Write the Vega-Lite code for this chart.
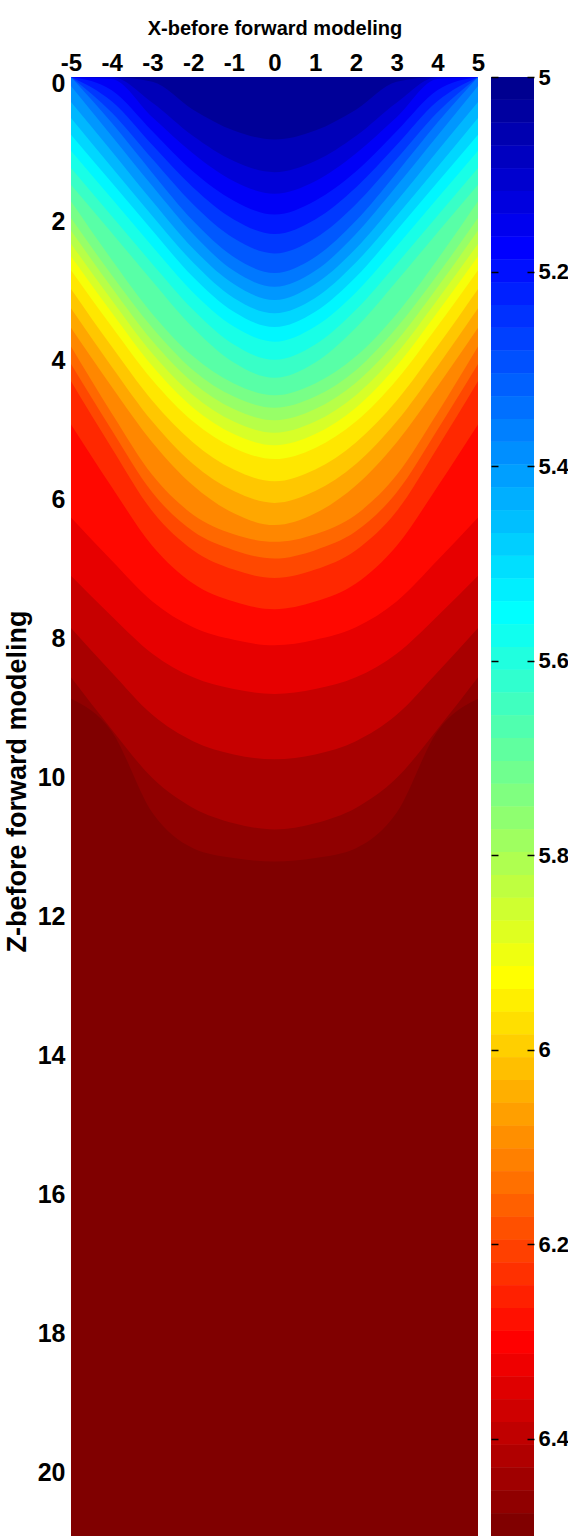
{
  "$schema": "https://vega.github.io/schema/vega-lite/v6.json",
  "background": "white",
  "padding": {"left": 3, "top": 18, "right": 0, "bottom": 0},
  "spacing": 5,
  "config": {
    "view": {"stroke": null},
    "axis": {
      "grid": false,
      "domain": false,
      "ticks": false,
      "labelColor": "#000000",
      "titleColor": "#000000",
      "labelFont": "Liberation Sans, Arial, sans-serif",
      "labelFontWeight": "bold",
      "titleFont": "Liberation Sans, Arial, sans-serif",
      "titleFontWeight": "bold",
      "labelOverlap": false,
      "labelFlush": false
    }
  },
  "hconcat": [
    {
      "width": 407,
      "height": 1459,
      "view": {"fill": "#800000", "stroke": null},
      "data": {
        "values": [
          {"v": 6.465, "x": [-5,-4,-3,-2,-1,0,1,2,3,4,5], "z": [8.95,9.42,10.59,11.1,11.24,11.29,11.24,11.1,10.59,9.42,8.95]},
          {"v": 6.4297, "x": [-5,-4,-3,-2,-1,0,1,2,3,4,5], "z": [8.64,9.39,10.09,10.52,10.74,10.83,10.74,10.52,10.09,9.39,8.64]},
          {"v": 6.3828, "x": [-5,-4,-3,-2,-1,0,1,2,3,4,5], "z": [7.93,8.57,9.18,9.56,9.75,9.82,9.75,9.56,9.18,8.57,7.93]},
          {"v": 6.3359, "x": [-5,-4,-3,-2,-1,0,1,2,3,4,5], "z": [7.18,7.76,8.3,8.64,8.81,8.88,8.81,8.64,8.3,7.76,7.18]},
          {"v": 6.2891, "x": [-5,-4,-3,-2,-1,0,1,2,3,4,5], "z": [6.34,6.96,7.55,7.92,8.1,8.18,8.1,7.92,7.55,6.96,6.34]},
          {"v": 6.2422, "x": [-5,-4,-3,-2,-1,0,1,2,3,4,5], "z": [5.0,5.9,6.75,7.29,7.55,7.66,7.55,7.29,6.75,5.9,5.0]},
          {"v": 6.1953, "x": [-5,-4,-3,-2,-1,0,1,2,3,4,5], "z": [4.38,5.34,6.25,6.81,7.09,7.21,7.09,6.81,6.25,5.34,4.38]},
          {"v": 6.1484, "x": [-5,-4,-3,-2,-1,0,1,2,3,4,5], "z": [4.13,5.08,5.98,6.54,6.81,6.93,6.81,6.54,5.98,5.08,4.13]},
          {"v": 6.1016, "x": [-5,-4,-3,-2,-1,0,1,2,3,4,5], "z": [3.88,4.84,5.73,6.3,6.58,6.69,6.58,6.3,5.73,4.84,3.88]},
          {"v": 6.0547, "x": [-5,-4,-3,-2,-1,0,1,2,3,4,5], "z": [3.61,4.46,5.26,5.88,6.28,6.45,6.28,5.88,5.26,4.46,3.61]},
          {"v": 6.0078, "x": [-5,-4,-3,-2,-1,0,1,2,3,4,5], "z": [3.33,4.17,4.96,5.57,5.96,6.13,5.96,5.57,4.96,4.17,3.33]},
          {"v": 5.9609, "x": [-5,-4,-3,-2,-1,0,1,2,3,4,5], "z": [3.05,3.88,4.66,5.26,5.65,5.82,5.65,5.26,4.66,3.88,3.05]},
          {"v": 5.9141, "x": [-5,-4,-3,-2,-1,0,1,2,3,4,5], "z": [2.78,3.59,4.36,4.96,5.34,5.5,5.34,4.96,4.36,3.59,2.78]},
          {"v": 5.8672, "x": [-5,-4,-3,-2,-1,0,1,2,3,4,5], "z": [2.58,3.39,4.16,4.76,5.14,5.3,5.14,4.76,4.16,3.39,2.58]},
          {"v": 5.8203, "x": [-5,-4,-3,-2,-1,0,1,2,3,4,5], "z": [2.4,3.21,3.98,4.58,4.96,5.12,4.96,4.58,3.98,3.21,2.4]},
          {"v": 5.7734, "x": [-5,-4,-3,-2,-1,0,1,2,3,4,5], "z": [2.21,3.03,3.8,4.4,4.78,4.94,4.78,4.4,3.8,3.03,2.21]},
          {"v": 5.7266, "x": [-5,-4,-3,-2,-1,0,1,2,3,4,5], "z": [2.03,2.85,3.61,4.22,4.6,4.76,4.6,4.22,3.61,2.85,2.03]},
          {"v": 5.6797, "x": [-5,-4,-3,-2,-1,0,1,2,3,4,5], "z": [1.79,2.63,3.41,4.02,4.41,4.58,4.41,4.02,3.41,2.63,1.79]},
          {"v": 5.6328, "x": [-5,-4,-3,-2,-1,0,1,2,3,4,5], "z": [1.55,2.24,2.94,3.61,4.11,4.33,4.11,3.61,2.94,2.24,1.55]},
          {"v": 5.5859, "x": [-5,-4,-3,-2,-1,0,1,2,3,4,5], "z": [1.31,2.0,2.69,3.35,3.85,4.07,3.85,3.35,2.69,2.0,1.31]},
          {"v": 5.5391, "x": [-5,-4,-3,-2,-1,0,1,2,3,4,5], "z": [1.06,1.75,2.44,3.1,3.59,3.81,3.59,3.1,2.44,1.75,1.06]},
          {"v": 5.4922, "x": [-5,-4,-3,-2,-1,0,1,2,3,4,5], "z": [0.83,1.52,2.21,2.88,3.38,3.6,3.38,2.88,2.21,1.52,0.83]},
          {"v": 5.4453, "x": [-5,-4,-3,-2,-1,0,1,2,3,4,5], "z": [0.59,1.3,2.0,2.67,3.18,3.4,3.18,2.67,2.0,1.3,0.59]},
          {"v": 5.3984, "x": [-5,-4,-3,-2,-1,0,1,2,3,4,5], "z": [0.36,1.07,1.79,2.47,2.98,3.21,2.98,2.47,1.79,1.07,0.36]},
          {"v": 5.3516, "x": [-5,-4,-3,-2,-1,0,1,2,3,4,5], "z": [0.13,0.85,1.57,2.26,2.79,3.02,2.79,2.26,1.57,0.85,0.13]},
          {"v": 5.3047, "x": [-5,-4,-3,-2,-1,0,1,2,3,4,5], "z": [0,0.66,1.38,2.07,2.59,2.82,2.59,2.07,1.38,0.66,0]},
          {"v": 5.2578, "x": [-5,-4,-3,-2,-1,0,1,2,3,4,5], "z": [0,0.51,1.18,1.83,2.32,2.54,2.32,1.83,1.18,0.51,0]},
          {"v": 5.2109, "x": [-5,-4,-3,-2,-1,0,1,2,3,4,5], "z": [0,0.35,0.98,1.59,2.05,2.26,2.05,1.59,0.98,0.35,0]},
          {"v": 5.1641, "x": [-5,-4,-3,-2,-1,0,1,2,3,4,5], "z": [0,0.19,0.78,1.36,1.78,1.98,1.78,1.36,0.78,0.19,0]},
          {"v": 5.1172, "x": [-5,-4,-3,-2,-1,0,1,2,3,4,5], "z": [0,0.03,0.58,1.1,1.5,1.68,1.5,1.1,0.58,0.03,0]},
          {"v": 5.0703, "x": [-5,-4,-3,-2,-1,0,1,2,3,4,5], "z": [0,0,0.37,0.85,1.21,1.37,1.21,0.85,0.37,0,0]},
          {"v": 5.0234, "x": [-5,-4,-3,-2,-1,0,1,2,3,4,5], "z": [0,0,0.07,0.47,0.77,0.9,0.77,0.47,0.07,0,0]}
        ]
      },
      "transform": [{"flatten": ["x", "z"]}],
      "mark": {"type": "area", "interpolate": "monotone", "clip": true},
      "encoding": {
        "x": {
          "field": "x",
          "type": "quantitative",
          "scale": {"domain": [-5, 5], "nice": false, "zero": false},
          "axis": {
            "orient": "top",
            "values": [-5, -4, -3, -2, -1, 0, 1, 2, 3, 4, 5],
            "labelExpr": "'' + datum.value",
            "labelFontSize": 24,
            "labelPadding": 2,
            "title": "X-before forward modeling",
            "titleFontSize": 20,
            "titlePadding": 13
          }
        },
        "y": {
          "field": "z",
          "type": "quantitative",
          "stack": null,
          "scale": {"domain": [0, 21], "reverse": true, "nice": false, "zero": false},
          "axis": {
            "values": [0, 2, 4, 6, 8, 10, 12, 14, 16, 18, 20],
            "labelExpr": "'' + datum.value",
            "labelFontSize": 25,
            "labelPadding": 6,
            "labelOffset": 6,
            "title": "Z-before forward modeling",
            "titleFontSize": 27,
            "titlePadding": 6,
            "titleY": 704
          }
        },
        "y2": {"datum": 0},
        "color": {
          "field": "v",
          "type": "quantitative",
          "scale": {
            "domain": [4.988, 5.1758, 5.5508, 5.9258, 6.3008, 6.4883],
            "range": ["#000080", "#0000ff", "#00ffff", "#ffff00", "#ff0000", "#800000"],
            "interpolate": "rgb",
            "clamp": true,
            "nice": false,
            "zero": false
          },
          "legend": null
        }
      }
    },
    {
      "width": 43,
      "height": 1459,
      "data": {
        "values": [
          {"v": 5.0117}, {"v": 5.0352}, {"v": 5.0586}, {"v": 5.082}, {"v": 5.1055}, {"v": 5.1289}, {"v": 5.1523}, {"v": 5.1758},
          {"v": 5.1992}, {"v": 5.2227}, {"v": 5.2461}, {"v": 5.2695}, {"v": 5.293}, {"v": 5.3164}, {"v": 5.3398}, {"v": 5.3633},
          {"v": 5.3867}, {"v": 5.4102}, {"v": 5.4336}, {"v": 5.457}, {"v": 5.4805}, {"v": 5.5039}, {"v": 5.5273}, {"v": 5.5508},
          {"v": 5.5742}, {"v": 5.5977}, {"v": 5.6211}, {"v": 5.6445}, {"v": 5.668}, {"v": 5.6914}, {"v": 5.7148}, {"v": 5.7383},
          {"v": 5.7617}, {"v": 5.7852}, {"v": 5.8086}, {"v": 5.832}, {"v": 5.8555}, {"v": 5.8789}, {"v": 5.9023}, {"v": 5.9258},
          {"v": 5.9492}, {"v": 5.9727}, {"v": 5.9961}, {"v": 6.0195}, {"v": 6.043}, {"v": 6.0664}, {"v": 6.0898}, {"v": 6.1133},
          {"v": 6.1367}, {"v": 6.1602}, {"v": 6.1836}, {"v": 6.207}, {"v": 6.2305}, {"v": 6.2539}, {"v": 6.2773}, {"v": 6.3008},
          {"v": 6.3242}, {"v": 6.3477}, {"v": 6.3711}, {"v": 6.3945}, {"v": 6.418}, {"v": 6.4414}, {"v": 6.4648}, {"v": 6.4883}
        ]
      },
      "transform": [
        {"bin": {"extent": [5, 6.5], "step": 0.0234375, "nice": false}, "field": "v", "as": ["lo", "hi"]}
      ],
      "layer": [
        {
          "mark": {"type": "rect"},
          "encoding": {
            "x": {"datum": 0, "type": "quantitative", "scale": {"domain": [0, 1], "nice": false, "zero": false}, "axis": null},
            "x2": {"datum": 1},
            "y": {
              "field": "lo",
              "type": "quantitative",
              "scale": {"domain": [5, 6.5], "reverse": true, "nice": false, "zero": false},
              "axis": {
                "orient": "left",
                "values": [5, 5.2, 5.4, 5.6, 5.8, 6, 6.2, 6.4],
                "labels": false,
                "ticks": true,
                "tickSize": 7,
                "tickWidth": 1.5,
                "tickColor": "#000000",
                "offset": -7,
                "zindex": 1,
                "title": null
              }
            },
            "y2": {"field": "hi"},
            "color": {
              "field": "v",
              "type": "quantitative",
              "scale": {
                "domain": [4.988, 5.1758, 5.5508, 5.9258, 6.3008, 6.4883],
                "range": ["#000080", "#0000ff", "#00ffff", "#ffff00", "#ff0000", "#800000"],
                "interpolate": "rgb",
                "clamp": true,
                "nice": false,
                "zero": false
              },
              "legend": null
            }
          }
        },
        {
          "mark": {"type": "rect"},
          "encoding": {
            "x": {"datum": 0, "type": "quantitative", "scale": {"domain": [0, 1], "nice": false, "zero": false}, "axis": null},
            "x2": {"datum": 1},
            "y": {
              "field": "lo",
              "type": "quantitative",
              "scale": {"domain": [5, 6.5], "reverse": true, "nice": false, "zero": false},
              "axis": {
                "orient": "right",
                "values": [5, 5.2, 5.4, 5.6, 5.8, 6, 6.2, 6.4],
                "format": "~g",
                "labelFontSize": 22,
                "labelPadding": 4,
                "ticks": true,
                "tickSize": 7,
                "tickWidth": 1.5,
                "tickColor": "#000000",
                "offset": -7,
                "zindex": 1,
                "title": null
              }
            },
            "y2": {"field": "hi"},
            "color": {
              "field": "v",
              "type": "quantitative",
              "scale": {
                "domain": [4.988, 5.1758, 5.5508, 5.9258, 6.3008, 6.4883],
                "range": ["#000080", "#0000ff", "#00ffff", "#ffff00", "#ff0000", "#800000"],
                "interpolate": "rgb",
                "clamp": true,
                "nice": false,
                "zero": false
              },
              "legend": null
            }
          }
        }
      ],
      "resolve": {"axis": {"y": "independent"}}
    }
  ]
}
